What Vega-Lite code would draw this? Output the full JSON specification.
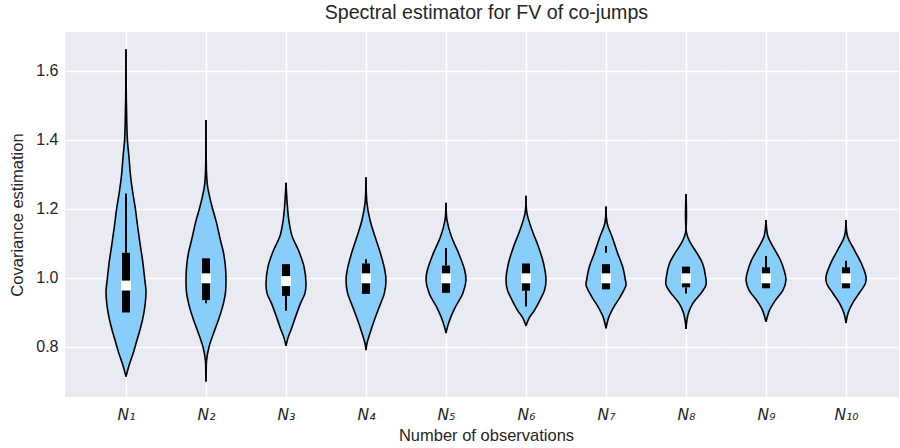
{
"$schema": "https://vega.github.io/schema/vega-lite/v6.json",
"padding": {"left": 9, "top": 3, "right": 0, "bottom": 0},
"spacing": 0,
"bounds": "flush",
"background": "white",
"title": {"text": "Spectral estimator for FV of co-jumps", "fontSize": 19.6, "font": "Liberation Sans", "fontWeight": "normal", "color": "#262626", "anchor": "middle", "offset": 8, "dx": 32},
"resolve": {"scale": {"x": "independent", "y": "independent"}},
"datasets": {
"violin": [
{"n":"N1","v":1.663,"w":0},{"n":"N1","v":1.55,"w":0.01},{"n":"N1","v":1.45,"w":0.04},{"n":"N1","v":1.4,"w":0.07},{"n":"N1","v":1.35,"w":0.15},{"n":"N1","v":1.3,"w":0.22},{"n":"N1","v":1.25,"w":0.33},{"n":"N1","v":1.2,"w":0.47},{"n":"N1","v":1.15,"w":0.58},{"n":"N1","v":1.1,"w":0.7},{"n":"N1","v":1.05,"w":0.83},{"n":"N1","v":1.0,"w":0.93},{"n":"N1","v":0.96,"w":1.0},{"n":"N1","v":0.92,"w":0.95},{"n":"N1","v":0.88,"w":0.83},{"n":"N1","v":0.85,"w":0.7},{"n":"N1","v":0.82,"w":0.55},{"n":"N1","v":0.78,"w":0.35},{"n":"N1","v":0.75,"w":0.17},{"n":"N1","v":0.714,"w":0},
{"n":"N2","v":1.458,"w":0},{"n":"N2","v":1.35,"w":0.01},{"n":"N2","v":1.3,"w":0.03},{"n":"N2","v":1.265,"w":0.08},{"n":"N2","v":1.236,"w":0.18},{"n":"N2","v":1.207,"w":0.3},{"n":"N2","v":1.159,"w":0.53},{"n":"N2","v":1.11,"w":0.72},{"n":"N2","v":1.072,"w":0.88},{"n":"N2","v":1.033,"w":0.97},{"n":"N2","v":0.995,"w":1.0},{"n":"N2","v":0.956,"w":0.97},{"n":"N2","v":0.917,"w":0.83},{"n":"N2","v":0.878,"w":0.62},{"n":"N2","v":0.84,"w":0.38},{"n":"N2","v":0.8,"w":0.15},{"n":"N2","v":0.762,"w":0.03},{"n":"N2","v":0.73,"w":0.01},{"n":"N2","v":0.7,"w":0},
{"n":"N3","v":1.276,"w":0},{"n":"N3","v":1.216,"w":0.06},{"n":"N3","v":1.168,"w":0.14},{"n":"N3","v":1.12,"w":0.31},{"n":"N3","v":1.096,"w":0.5},{"n":"N3","v":1.072,"w":0.68},{"n":"N3","v":1.033,"w":0.9},{"n":"N3","v":0.985,"w":1.0},{"n":"N3","v":0.956,"w":0.95},{"n":"N3","v":0.927,"w":0.73},{"n":"N3","v":0.888,"w":0.48},{"n":"N3","v":0.849,"w":0.25},{"n":"N3","v":0.83,"w":0.12},{"n":"N3","v":0.803,"w":0},
{"n":"N4","v":1.292,"w":0},{"n":"N4","v":1.216,"w":0.05},{"n":"N4","v":1.168,"w":0.2},{"n":"N4","v":1.12,"w":0.45},{"n":"N4","v":1.072,"w":0.72},{"n":"N4","v":1.023,"w":0.94},{"n":"N4","v":0.994,"w":1.0},{"n":"N4","v":0.956,"w":0.92},{"n":"N4","v":0.917,"w":0.67},{"n":"N4","v":0.878,"w":0.42},{"n":"N4","v":0.84,"w":0.2},{"n":"N4","v":0.81,"w":0.05},{"n":"N4","v":0.791,"w":0},
{"n":"N5","v":1.218,"w":0},{"n":"N5","v":1.168,"w":0.05},{"n":"N5","v":1.12,"w":0.27},{"n":"N5","v":1.072,"w":0.63},{"n":"N5","v":1.023,"w":0.93},{"n":"N5","v":0.994,"w":1.0},{"n":"N5","v":0.955,"w":0.84},{"n":"N5","v":0.917,"w":0.48},{"n":"N5","v":0.888,"w":0.25},{"n":"N5","v":0.859,"w":0.08},{"n":"N5","v":0.84,"w":0},
{"n":"N6","v":1.238,"w":0},{"n":"N6","v":1.187,"w":0.05},{"n":"N6","v":1.139,"w":0.3},{"n":"N6","v":1.091,"w":0.62},{"n":"N6","v":1.042,"w":0.88},{"n":"N6","v":0.994,"w":1.0},{"n":"N6","v":0.965,"w":0.93},{"n":"N6","v":0.936,"w":0.7},{"n":"N6","v":0.907,"w":0.43},{"n":"N6","v":0.883,"w":0.15},{"n":"N6","v":0.861,"w":0},
{"n":"N7","v":1.207,"w":0},{"n":"N7","v":1.158,"w":0.06},{"n":"N7","v":1.12,"w":0.3},{"n":"N7","v":1.072,"w":0.58},{"n":"N7","v":1.033,"w":0.83},{"n":"N7","v":0.994,"w":0.97},{"n":"N7","v":0.98,"w":1.0},{"n":"N7","v":0.946,"w":0.72},{"n":"N7","v":0.917,"w":0.4},{"n":"N7","v":0.888,"w":0.15},{"n":"N7","v":0.854,"w":0},
{"n":"N8","v":1.243,"w":0},{"n":"N8","v":1.13,"w":0.03},{"n":"N8","v":1.1,"w":0.24},{"n":"N8","v":1.072,"w":0.55},{"n":"N8","v":1.042,"w":0.83},{"n":"N8","v":1.004,"w":0.98},{"n":"N8","v":0.98,"w":1.0},{"n":"N8","v":0.955,"w":0.74},{"n":"N8","v":0.927,"w":0.35},{"n":"N8","v":0.898,"w":0.12},{"n":"N8","v":0.875,"w":0.04},{"n":"N8","v":0.852,"w":0},
{"n":"N9","v":1.168,"w":0},{"n":"N9","v":1.12,"w":0.1},{"n":"N9","v":1.091,"w":0.35},{"n":"N9","v":1.052,"w":0.72},{"n":"N9","v":1.023,"w":0.9},{"n":"N9","v":0.994,"w":1.0},{"n":"N9","v":0.965,"w":0.85},{"n":"N9","v":0.936,"w":0.48},{"n":"N9","v":0.907,"w":0.18},{"n":"N9","v":0.873,"w":0},
{"n":"N10","v":1.168,"w":0},{"n":"N10","v":1.12,"w":0.08},{"n":"N10","v":1.081,"w":0.42},{"n":"N10","v":1.042,"w":0.77},{"n":"N10","v":1.004,"w":1.0},{"n":"N10","v":0.985,"w":0.97},{"n":"N10","v":0.955,"w":0.65},{"n":"N10","v":0.927,"w":0.33},{"n":"N10","v":0.898,"w":0.1},{"n":"N10","v":0.869,"w":0}
],
"box": [
{"n":"N1","q1":0.9,"q3":1.073,"med":0.978,"wlo":1.073,"whi":1.245},
{"n":"N2","q1":0.936,"q3":1.057,"med":0.999,"wlo":0.927,"whi":0.936},
{"n":"N3","q1":0.948,"q3":1.04,"med":0.991,"wlo":0.905,"whi":0.948},
{"n":"N4","q1":0.954,"q3":1.042,"med":0.999,"wlo":1.042,"whi":1.054},
{"n":"N5","q1":0.957,"q3":1.036,"med":0.999,"wlo":1.036,"whi":1.087},
{"n":"N6","q1":0.963,"q3":1.042,"med":0.999,"wlo":0.917,"whi":0.963},
{"n":"N7","q1":0.967,"q3":1.04,"med":0.999,"wlo":1.073,"whi":1.093},
{"n":"N8","q1":0.973,"q3":1.033,"med":0.999,"wlo":0.955,"whi":0.973},
{"n":"N9","q1":0.97,"q3":1.031,"med":0.999,"wlo":1.031,"whi":1.064},
{"n":"N10","q1":0.97,"q3":1.031,"med":0.999,"wlo":1.031,"whi":1.05}
]
},
"hconcat": [
{"width": 101, "height": 365, "resolve": {"scale": {"x": "independent"}}, "layer": [
 {"data": {"name": "violin"}, "transform": [{"filter": "datum.n == 'N1'"}], "mark": {"type": "area", "orient": "horizontal", "interpolate": "catmull-rom", "color": "#87CEFA"}, "encoding": {
   "y": {"field": "v", "type": "quantitative", "scale": {"domain": [0.655, 1.713], "nice": false, "zero": false}, "axis": {"values": [0.8, 1.0, 1.2, 1.4, 1.6], "format": ".1f", "title": "Covariance estimation", "grid": true, "labelPadding": 7, "titlePadding": 10}},
   "x": {"field": "w", "type": "quantitative", "scale": {"domain": [-3.05, 2], "nice": false, "zero": false}, "axis": {"values": [0], "grid": true, "labelExpr": "'N₁'", "title": null}},
   "x2": {"datum": 0}}},
 {"data": {"name": "violin"}, "transform": [{"filter": "datum.n == 'N1'"}], "mark": {"type": "area", "orient": "horizontal", "interpolate": "catmull-rom", "color": "#87CEFA"}, "encoding": {
   "y": {"field": "v", "type": "quantitative", "scale": {"domain": [0.655, 1.713], "nice": false, "zero": false}},
   "x": {"field": "w", "type": "quantitative", "scale": {"domain": [-2, 3.05], "reverse": true, "nice": false, "zero": false}, "axis": null},
   "x2": {"datum": 0}}},
 {"data": {"name": "violin"}, "transform": [{"filter": "datum.n == 'N1'"}], "mark": {"type": "line", "interpolate": "catmull-rom", "color": "black", "strokeWidth": 1.6}, "encoding": {
   "y": {"field": "v", "type": "quantitative", "scale": {"domain": [0.655, 1.713], "nice": false, "zero": false}},
   "x": {"field": "w", "type": "quantitative", "scale": {"domain": [-3.05, 2], "nice": false, "zero": false}, "axis": null},
   "order": {"field": "v", "type": "quantitative"}}},
 {"data": {"name": "violin"}, "transform": [{"filter": "datum.n == 'N1'"}], "mark": {"type": "line", "interpolate": "catmull-rom", "color": "black", "strokeWidth": 1.6}, "encoding": {
   "y": {"field": "v", "type": "quantitative", "scale": {"domain": [0.655, 1.713], "nice": false, "zero": false}},
   "x": {"field": "w", "type": "quantitative", "scale": {"domain": [-2, 3.05], "reverse": true, "nice": false, "zero": false}, "axis": null},
   "order": {"field": "v", "type": "quantitative"}}},
 {"data": {"name": "box"}, "transform": [{"filter": "datum.n == 'N1'"}], "mark": {"type": "rule", "color": "black", "strokeWidth": 2}, "encoding": {
   "x": {"datum": 0, "type": "quantitative", "scale": {"domain": [-3.05, 2], "nice": false, "zero": false}, "axis": null},
   "y": {"field": "wlo", "type": "quantitative", "scale": {"domain": [0.655, 1.713], "nice": false, "zero": false}},
   "y2": {"field": "whi"}}},
 {"data": {"name": "box"}, "transform": [{"filter": "datum.n == 'N1'"}], "mark": {"type": "rule", "color": "black", "strokeWidth": 8, "strokeCap": "butt"}, "encoding": {
   "x": {"datum": 0, "type": "quantitative", "scale": {"domain": [-3.05, 2], "nice": false, "zero": false}, "axis": null},
   "y": {"field": "q1", "type": "quantitative", "scale": {"domain": [0.655, 1.713], "nice": false, "zero": false}},
   "y2": {"field": "q3"}}},
 {"data": {"name": "box"}, "transform": [{"filter": "datum.n == 'N1'"}], "mark": {"type": "point", "shape": "square", "filled": true, "color": "white", "opacity": 1, "size": 100, "strokeWidth": 0}, "encoding": {
   "x": {"datum": 0, "type": "quantitative", "scale": {"domain": [-3.05, 2], "nice": false, "zero": false}, "axis": null},
   "y": {"field": "med", "type": "quantitative", "scale": {"domain": [0.655, 1.713], "nice": false, "zero": false}}}}
]},
{"width": 80, "height": 365, "resolve": {"scale": {"x": "independent"}}, "layer": [
 {"data": {"name": "violin"}, "transform": [{"filter": "datum.n == 'N2'"}], "mark": {"type": "area", "orient": "horizontal", "interpolate": "catmull-rom", "color": "#87CEFA"}, "encoding": {
   "y": {"field": "v", "type": "quantitative", "scale": {"domain": [0.655, 1.713], "nice": false, "zero": false}, "axis": {"values": [0.8, 1.0, 1.2, 1.4, 1.6], "grid": true, "labels": false, "title": null}},
   "x": {"field": "w", "type": "quantitative", "scale": {"domain": [-2, 2], "nice": false, "zero": false}, "axis": {"values": [0], "grid": true, "labelExpr": "'N₂'", "title": null}},
   "x2": {"datum": 0}}},
 {"data": {"name": "violin"}, "transform": [{"filter": "datum.n == 'N2'"}], "mark": {"type": "area", "orient": "horizontal", "interpolate": "catmull-rom", "color": "#87CEFA"}, "encoding": {
   "y": {"field": "v", "type": "quantitative", "scale": {"domain": [0.655, 1.713], "nice": false, "zero": false}},
   "x": {"field": "w", "type": "quantitative", "scale": {"domain": [-2, 2], "reverse": true, "nice": false, "zero": false}, "axis": null},
   "x2": {"datum": 0}}},
 {"data": {"name": "violin"}, "transform": [{"filter": "datum.n == 'N2'"}], "mark": {"type": "line", "interpolate": "catmull-rom", "color": "black", "strokeWidth": 1.6}, "encoding": {
   "y": {"field": "v", "type": "quantitative", "scale": {"domain": [0.655, 1.713], "nice": false, "zero": false}},
   "x": {"field": "w", "type": "quantitative", "scale": {"domain": [-2, 2], "nice": false, "zero": false}, "axis": null},
   "order": {"field": "v", "type": "quantitative"}}},
 {"data": {"name": "violin"}, "transform": [{"filter": "datum.n == 'N2'"}], "mark": {"type": "line", "interpolate": "catmull-rom", "color": "black", "strokeWidth": 1.6}, "encoding": {
   "y": {"field": "v", "type": "quantitative", "scale": {"domain": [0.655, 1.713], "nice": false, "zero": false}},
   "x": {"field": "w", "type": "quantitative", "scale": {"domain": [-2, 2], "reverse": true, "nice": false, "zero": false}, "axis": null},
   "order": {"field": "v", "type": "quantitative"}}},
 {"data": {"name": "box"}, "transform": [{"filter": "datum.n == 'N2'"}], "mark": {"type": "rule", "color": "black", "strokeWidth": 2}, "encoding": {
   "x": {"datum": 0, "type": "quantitative", "scale": {"domain": [-2, 2], "nice": false, "zero": false}, "axis": null},
   "y": {"field": "wlo", "type": "quantitative", "scale": {"domain": [0.655, 1.713], "nice": false, "zero": false}},
   "y2": {"field": "whi"}}},
 {"data": {"name": "box"}, "transform": [{"filter": "datum.n == 'N2'"}], "mark": {"type": "rule", "color": "black", "strokeWidth": 8, "strokeCap": "butt"}, "encoding": {
   "x": {"datum": 0, "type": "quantitative", "scale": {"domain": [-2, 2], "nice": false, "zero": false}, "axis": null},
   "y": {"field": "q1", "type": "quantitative", "scale": {"domain": [0.655, 1.713], "nice": false, "zero": false}},
   "y2": {"field": "q3"}}},
 {"data": {"name": "box"}, "transform": [{"filter": "datum.n == 'N2'"}], "mark": {"type": "point", "shape": "square", "filled": true, "color": "white", "opacity": 1, "size": 100, "strokeWidth": 0}, "encoding": {
   "x": {"datum": 0, "type": "quantitative", "scale": {"domain": [-2, 2], "nice": false, "zero": false}, "axis": null},
   "y": {"field": "med", "type": "quantitative", "scale": {"domain": [0.655, 1.713], "nice": false, "zero": false}}}}
]},
{"width": 80, "height": 365, "resolve": {"scale": {"x": "independent"}}, "layer": [
 {"data": {"name": "violin"}, "transform": [{"filter": "datum.n == 'N3'"}], "mark": {"type": "area", "orient": "horizontal", "interpolate": "catmull-rom", "color": "#87CEFA"}, "encoding": {
   "y": {"field": "v", "type": "quantitative", "scale": {"domain": [0.655, 1.713], "nice": false, "zero": false}, "axis": {"values": [0.8, 1.0, 1.2, 1.4, 1.6], "grid": true, "labels": false, "title": null}},
   "x": {"field": "w", "type": "quantitative", "scale": {"domain": [-2, 2], "nice": false, "zero": false}, "axis": {"values": [0], "grid": true, "labelExpr": "'N₃'", "title": null}},
   "x2": {"datum": 0}}},
 {"data": {"name": "violin"}, "transform": [{"filter": "datum.n == 'N3'"}], "mark": {"type": "area", "orient": "horizontal", "interpolate": "catmull-rom", "color": "#87CEFA"}, "encoding": {
   "y": {"field": "v", "type": "quantitative", "scale": {"domain": [0.655, 1.713], "nice": false, "zero": false}},
   "x": {"field": "w", "type": "quantitative", "scale": {"domain": [-2, 2], "reverse": true, "nice": false, "zero": false}, "axis": null},
   "x2": {"datum": 0}}},
 {"data": {"name": "violin"}, "transform": [{"filter": "datum.n == 'N3'"}], "mark": {"type": "line", "interpolate": "catmull-rom", "color": "black", "strokeWidth": 1.6}, "encoding": {
   "y": {"field": "v", "type": "quantitative", "scale": {"domain": [0.655, 1.713], "nice": false, "zero": false}},
   "x": {"field": "w", "type": "quantitative", "scale": {"domain": [-2, 2], "nice": false, "zero": false}, "axis": null},
   "order": {"field": "v", "type": "quantitative"}}},
 {"data": {"name": "violin"}, "transform": [{"filter": "datum.n == 'N3'"}], "mark": {"type": "line", "interpolate": "catmull-rom", "color": "black", "strokeWidth": 1.6}, "encoding": {
   "y": {"field": "v", "type": "quantitative", "scale": {"domain": [0.655, 1.713], "nice": false, "zero": false}},
   "x": {"field": "w", "type": "quantitative", "scale": {"domain": [-2, 2], "reverse": true, "nice": false, "zero": false}, "axis": null},
   "order": {"field": "v", "type": "quantitative"}}},
 {"data": {"name": "box"}, "transform": [{"filter": "datum.n == 'N3'"}], "mark": {"type": "rule", "color": "black", "strokeWidth": 2}, "encoding": {
   "x": {"datum": 0, "type": "quantitative", "scale": {"domain": [-2, 2], "nice": false, "zero": false}, "axis": null},
   "y": {"field": "wlo", "type": "quantitative", "scale": {"domain": [0.655, 1.713], "nice": false, "zero": false}},
   "y2": {"field": "whi"}}},
 {"data": {"name": "box"}, "transform": [{"filter": "datum.n == 'N3'"}], "mark": {"type": "rule", "color": "black", "strokeWidth": 8, "strokeCap": "butt"}, "encoding": {
   "x": {"datum": 0, "type": "quantitative", "scale": {"domain": [-2, 2], "nice": false, "zero": false}, "axis": null},
   "y": {"field": "q1", "type": "quantitative", "scale": {"domain": [0.655, 1.713], "nice": false, "zero": false}},
   "y2": {"field": "q3"}}},
 {"data": {"name": "box"}, "transform": [{"filter": "datum.n == 'N3'"}], "mark": {"type": "point", "shape": "square", "filled": true, "color": "white", "opacity": 1, "size": 100, "strokeWidth": 0}, "encoding": {
   "x": {"datum": 0, "type": "quantitative", "scale": {"domain": [-2, 2], "nice": false, "zero": false}, "axis": null},
   "y": {"field": "med", "type": "quantitative", "scale": {"domain": [0.655, 1.713], "nice": false, "zero": false}}}}
]},
{"width": 80, "height": 365, "resolve": {"scale": {"x": "independent"}}, "layer": [
 {"data": {"name": "violin"}, "transform": [{"filter": "datum.n == 'N4'"}], "mark": {"type": "area", "orient": "horizontal", "interpolate": "catmull-rom", "color": "#87CEFA"}, "encoding": {
   "y": {"field": "v", "type": "quantitative", "scale": {"domain": [0.655, 1.713], "nice": false, "zero": false}, "axis": {"values": [0.8, 1.0, 1.2, 1.4, 1.6], "grid": true, "labels": false, "title": null}},
   "x": {"field": "w", "type": "quantitative", "scale": {"domain": [-2, 2], "nice": false, "zero": false}, "axis": {"values": [0], "grid": true, "labelExpr": "'N₄'", "title": null}},
   "x2": {"datum": 0}}},
 {"data": {"name": "violin"}, "transform": [{"filter": "datum.n == 'N4'"}], "mark": {"type": "area", "orient": "horizontal", "interpolate": "catmull-rom", "color": "#87CEFA"}, "encoding": {
   "y": {"field": "v", "type": "quantitative", "scale": {"domain": [0.655, 1.713], "nice": false, "zero": false}},
   "x": {"field": "w", "type": "quantitative", "scale": {"domain": [-2, 2], "reverse": true, "nice": false, "zero": false}, "axis": null},
   "x2": {"datum": 0}}},
 {"data": {"name": "violin"}, "transform": [{"filter": "datum.n == 'N4'"}], "mark": {"type": "line", "interpolate": "catmull-rom", "color": "black", "strokeWidth": 1.6}, "encoding": {
   "y": {"field": "v", "type": "quantitative", "scale": {"domain": [0.655, 1.713], "nice": false, "zero": false}},
   "x": {"field": "w", "type": "quantitative", "scale": {"domain": [-2, 2], "nice": false, "zero": false}, "axis": null},
   "order": {"field": "v", "type": "quantitative"}}},
 {"data": {"name": "violin"}, "transform": [{"filter": "datum.n == 'N4'"}], "mark": {"type": "line", "interpolate": "catmull-rom", "color": "black", "strokeWidth": 1.6}, "encoding": {
   "y": {"field": "v", "type": "quantitative", "scale": {"domain": [0.655, 1.713], "nice": false, "zero": false}},
   "x": {"field": "w", "type": "quantitative", "scale": {"domain": [-2, 2], "reverse": true, "nice": false, "zero": false}, "axis": null},
   "order": {"field": "v", "type": "quantitative"}}},
 {"data": {"name": "box"}, "transform": [{"filter": "datum.n == 'N4'"}], "mark": {"type": "rule", "color": "black", "strokeWidth": 2}, "encoding": {
   "x": {"datum": 0, "type": "quantitative", "scale": {"domain": [-2, 2], "nice": false, "zero": false}, "axis": null},
   "y": {"field": "wlo", "type": "quantitative", "scale": {"domain": [0.655, 1.713], "nice": false, "zero": false}},
   "y2": {"field": "whi"}}},
 {"data": {"name": "box"}, "transform": [{"filter": "datum.n == 'N4'"}], "mark": {"type": "rule", "color": "black", "strokeWidth": 8, "strokeCap": "butt"}, "encoding": {
   "x": {"datum": 0, "type": "quantitative", "scale": {"domain": [-2, 2], "nice": false, "zero": false}, "axis": null},
   "y": {"field": "q1", "type": "quantitative", "scale": {"domain": [0.655, 1.713], "nice": false, "zero": false}},
   "y2": {"field": "q3"}}},
 {"data": {"name": "box"}, "transform": [{"filter": "datum.n == 'N4'"}], "mark": {"type": "point", "shape": "square", "filled": true, "color": "white", "opacity": 1, "size": 100, "strokeWidth": 0}, "encoding": {
   "x": {"datum": 0, "type": "quantitative", "scale": {"domain": [-2, 2], "nice": false, "zero": false}, "axis": null},
   "y": {"field": "med", "type": "quantitative", "scale": {"domain": [0.655, 1.713], "nice": false, "zero": false}}}}
]},
{"width": 80, "height": 365, "resolve": {"scale": {"x": "independent"}}, "layer": [
 {"data": {"name": "violin"}, "transform": [{"filter": "datum.n == 'N5'"}], "mark": {"type": "area", "orient": "horizontal", "interpolate": "catmull-rom", "color": "#87CEFA"}, "encoding": {
   "y": {"field": "v", "type": "quantitative", "scale": {"domain": [0.655, 1.713], "nice": false, "zero": false}, "axis": {"values": [0.8, 1.0, 1.2, 1.4, 1.6], "grid": true, "labels": false, "title": null}},
   "x": {"field": "w", "type": "quantitative", "scale": {"domain": [-2, 2], "nice": false, "zero": false}, "axis": {"values": [0], "grid": true, "labelExpr": "'N₅'", "title": "Number of observations", "titleX": 80, "titleAlign": "center", "titlePadding": 5}},
   "x2": {"datum": 0}}},
 {"data": {"name": "violin"}, "transform": [{"filter": "datum.n == 'N5'"}], "mark": {"type": "area", "orient": "horizontal", "interpolate": "catmull-rom", "color": "#87CEFA"}, "encoding": {
   "y": {"field": "v", "type": "quantitative", "scale": {"domain": [0.655, 1.713], "nice": false, "zero": false}},
   "x": {"field": "w", "type": "quantitative", "scale": {"domain": [-2, 2], "reverse": true, "nice": false, "zero": false}, "axis": null},
   "x2": {"datum": 0}}},
 {"data": {"name": "violin"}, "transform": [{"filter": "datum.n == 'N5'"}], "mark": {"type": "line", "interpolate": "catmull-rom", "color": "black", "strokeWidth": 1.6}, "encoding": {
   "y": {"field": "v", "type": "quantitative", "scale": {"domain": [0.655, 1.713], "nice": false, "zero": false}},
   "x": {"field": "w", "type": "quantitative", "scale": {"domain": [-2, 2], "nice": false, "zero": false}, "axis": null},
   "order": {"field": "v", "type": "quantitative"}}},
 {"data": {"name": "violin"}, "transform": [{"filter": "datum.n == 'N5'"}], "mark": {"type": "line", "interpolate": "catmull-rom", "color": "black", "strokeWidth": 1.6}, "encoding": {
   "y": {"field": "v", "type": "quantitative", "scale": {"domain": [0.655, 1.713], "nice": false, "zero": false}},
   "x": {"field": "w", "type": "quantitative", "scale": {"domain": [-2, 2], "reverse": true, "nice": false, "zero": false}, "axis": null},
   "order": {"field": "v", "type": "quantitative"}}},
 {"data": {"name": "box"}, "transform": [{"filter": "datum.n == 'N5'"}], "mark": {"type": "rule", "color": "black", "strokeWidth": 2}, "encoding": {
   "x": {"datum": 0, "type": "quantitative", "scale": {"domain": [-2, 2], "nice": false, "zero": false}, "axis": null},
   "y": {"field": "wlo", "type": "quantitative", "scale": {"domain": [0.655, 1.713], "nice": false, "zero": false}},
   "y2": {"field": "whi"}}},
 {"data": {"name": "box"}, "transform": [{"filter": "datum.n == 'N5'"}], "mark": {"type": "rule", "color": "black", "strokeWidth": 8, "strokeCap": "butt"}, "encoding": {
   "x": {"datum": 0, "type": "quantitative", "scale": {"domain": [-2, 2], "nice": false, "zero": false}, "axis": null},
   "y": {"field": "q1", "type": "quantitative", "scale": {"domain": [0.655, 1.713], "nice": false, "zero": false}},
   "y2": {"field": "q3"}}},
 {"data": {"name": "box"}, "transform": [{"filter": "datum.n == 'N5'"}], "mark": {"type": "point", "shape": "square", "filled": true, "color": "white", "opacity": 1, "size": 100, "strokeWidth": 0}, "encoding": {
   "x": {"datum": 0, "type": "quantitative", "scale": {"domain": [-2, 2], "nice": false, "zero": false}, "axis": null},
   "y": {"field": "med", "type": "quantitative", "scale": {"domain": [0.655, 1.713], "nice": false, "zero": false}}}}
]},
{"width": 80, "height": 365, "resolve": {"scale": {"x": "independent"}}, "layer": [
 {"data": {"name": "violin"}, "transform": [{"filter": "datum.n == 'N6'"}], "mark": {"type": "area", "orient": "horizontal", "interpolate": "catmull-rom", "color": "#87CEFA"}, "encoding": {
   "y": {"field": "v", "type": "quantitative", "scale": {"domain": [0.655, 1.713], "nice": false, "zero": false}, "axis": {"values": [0.8, 1.0, 1.2, 1.4, 1.6], "grid": true, "labels": false, "title": null}},
   "x": {"field": "w", "type": "quantitative", "scale": {"domain": [-2, 2], "nice": false, "zero": false}, "axis": {"values": [0], "grid": true, "labelExpr": "'N₆'", "title": null}},
   "x2": {"datum": 0}}},
 {"data": {"name": "violin"}, "transform": [{"filter": "datum.n == 'N6'"}], "mark": {"type": "area", "orient": "horizontal", "interpolate": "catmull-rom", "color": "#87CEFA"}, "encoding": {
   "y": {"field": "v", "type": "quantitative", "scale": {"domain": [0.655, 1.713], "nice": false, "zero": false}},
   "x": {"field": "w", "type": "quantitative", "scale": {"domain": [-2, 2], "reverse": true, "nice": false, "zero": false}, "axis": null},
   "x2": {"datum": 0}}},
 {"data": {"name": "violin"}, "transform": [{"filter": "datum.n == 'N6'"}], "mark": {"type": "line", "interpolate": "catmull-rom", "color": "black", "strokeWidth": 1.6}, "encoding": {
   "y": {"field": "v", "type": "quantitative", "scale": {"domain": [0.655, 1.713], "nice": false, "zero": false}},
   "x": {"field": "w", "type": "quantitative", "scale": {"domain": [-2, 2], "nice": false, "zero": false}, "axis": null},
   "order": {"field": "v", "type": "quantitative"}}},
 {"data": {"name": "violin"}, "transform": [{"filter": "datum.n == 'N6'"}], "mark": {"type": "line", "interpolate": "catmull-rom", "color": "black", "strokeWidth": 1.6}, "encoding": {
   "y": {"field": "v", "type": "quantitative", "scale": {"domain": [0.655, 1.713], "nice": false, "zero": false}},
   "x": {"field": "w", "type": "quantitative", "scale": {"domain": [-2, 2], "reverse": true, "nice": false, "zero": false}, "axis": null},
   "order": {"field": "v", "type": "quantitative"}}},
 {"data": {"name": "box"}, "transform": [{"filter": "datum.n == 'N6'"}], "mark": {"type": "rule", "color": "black", "strokeWidth": 2}, "encoding": {
   "x": {"datum": 0, "type": "quantitative", "scale": {"domain": [-2, 2], "nice": false, "zero": false}, "axis": null},
   "y": {"field": "wlo", "type": "quantitative", "scale": {"domain": [0.655, 1.713], "nice": false, "zero": false}},
   "y2": {"field": "whi"}}},
 {"data": {"name": "box"}, "transform": [{"filter": "datum.n == 'N6'"}], "mark": {"type": "rule", "color": "black", "strokeWidth": 8, "strokeCap": "butt"}, "encoding": {
   "x": {"datum": 0, "type": "quantitative", "scale": {"domain": [-2, 2], "nice": false, "zero": false}, "axis": null},
   "y": {"field": "q1", "type": "quantitative", "scale": {"domain": [0.655, 1.713], "nice": false, "zero": false}},
   "y2": {"field": "q3"}}},
 {"data": {"name": "box"}, "transform": [{"filter": "datum.n == 'N6'"}], "mark": {"type": "point", "shape": "square", "filled": true, "color": "white", "opacity": 1, "size": 100, "strokeWidth": 0}, "encoding": {
   "x": {"datum": 0, "type": "quantitative", "scale": {"domain": [-2, 2], "nice": false, "zero": false}, "axis": null},
   "y": {"field": "med", "type": "quantitative", "scale": {"domain": [0.655, 1.713], "nice": false, "zero": false}}}}
]},
{"width": 80, "height": 365, "resolve": {"scale": {"x": "independent"}}, "layer": [
 {"data": {"name": "violin"}, "transform": [{"filter": "datum.n == 'N7'"}], "mark": {"type": "area", "orient": "horizontal", "interpolate": "catmull-rom", "color": "#87CEFA"}, "encoding": {
   "y": {"field": "v", "type": "quantitative", "scale": {"domain": [0.655, 1.713], "nice": false, "zero": false}, "axis": {"values": [0.8, 1.0, 1.2, 1.4, 1.6], "grid": true, "labels": false, "title": null}},
   "x": {"field": "w", "type": "quantitative", "scale": {"domain": [-2, 2], "nice": false, "zero": false}, "axis": {"values": [0], "grid": true, "labelExpr": "'N₇'", "title": null}},
   "x2": {"datum": 0}}},
 {"data": {"name": "violin"}, "transform": [{"filter": "datum.n == 'N7'"}], "mark": {"type": "area", "orient": "horizontal", "interpolate": "catmull-rom", "color": "#87CEFA"}, "encoding": {
   "y": {"field": "v", "type": "quantitative", "scale": {"domain": [0.655, 1.713], "nice": false, "zero": false}},
   "x": {"field": "w", "type": "quantitative", "scale": {"domain": [-2, 2], "reverse": true, "nice": false, "zero": false}, "axis": null},
   "x2": {"datum": 0}}},
 {"data": {"name": "violin"}, "transform": [{"filter": "datum.n == 'N7'"}], "mark": {"type": "line", "interpolate": "catmull-rom", "color": "black", "strokeWidth": 1.6}, "encoding": {
   "y": {"field": "v", "type": "quantitative", "scale": {"domain": [0.655, 1.713], "nice": false, "zero": false}},
   "x": {"field": "w", "type": "quantitative", "scale": {"domain": [-2, 2], "nice": false, "zero": false}, "axis": null},
   "order": {"field": "v", "type": "quantitative"}}},
 {"data": {"name": "violin"}, "transform": [{"filter": "datum.n == 'N7'"}], "mark": {"type": "line", "interpolate": "catmull-rom", "color": "black", "strokeWidth": 1.6}, "encoding": {
   "y": {"field": "v", "type": "quantitative", "scale": {"domain": [0.655, 1.713], "nice": false, "zero": false}},
   "x": {"field": "w", "type": "quantitative", "scale": {"domain": [-2, 2], "reverse": true, "nice": false, "zero": false}, "axis": null},
   "order": {"field": "v", "type": "quantitative"}}},
 {"data": {"name": "box"}, "transform": [{"filter": "datum.n == 'N7'"}], "mark": {"type": "rule", "color": "black", "strokeWidth": 2}, "encoding": {
   "x": {"datum": 0, "type": "quantitative", "scale": {"domain": [-2, 2], "nice": false, "zero": false}, "axis": null},
   "y": {"field": "wlo", "type": "quantitative", "scale": {"domain": [0.655, 1.713], "nice": false, "zero": false}},
   "y2": {"field": "whi"}}},
 {"data": {"name": "box"}, "transform": [{"filter": "datum.n == 'N7'"}], "mark": {"type": "rule", "color": "black", "strokeWidth": 8, "strokeCap": "butt"}, "encoding": {
   "x": {"datum": 0, "type": "quantitative", "scale": {"domain": [-2, 2], "nice": false, "zero": false}, "axis": null},
   "y": {"field": "q1", "type": "quantitative", "scale": {"domain": [0.655, 1.713], "nice": false, "zero": false}},
   "y2": {"field": "q3"}}},
 {"data": {"name": "box"}, "transform": [{"filter": "datum.n == 'N7'"}], "mark": {"type": "point", "shape": "square", "filled": true, "color": "white", "opacity": 1, "size": 100, "strokeWidth": 0}, "encoding": {
   "x": {"datum": 0, "type": "quantitative", "scale": {"domain": [-2, 2], "nice": false, "zero": false}, "axis": null},
   "y": {"field": "med", "type": "quantitative", "scale": {"domain": [0.655, 1.713], "nice": false, "zero": false}}}}
]},
{"width": 80, "height": 365, "resolve": {"scale": {"x": "independent"}}, "layer": [
 {"data": {"name": "violin"}, "transform": [{"filter": "datum.n == 'N8'"}], "mark": {"type": "area", "orient": "horizontal", "interpolate": "catmull-rom", "color": "#87CEFA"}, "encoding": {
   "y": {"field": "v", "type": "quantitative", "scale": {"domain": [0.655, 1.713], "nice": false, "zero": false}, "axis": {"values": [0.8, 1.0, 1.2, 1.4, 1.6], "grid": true, "labels": false, "title": null}},
   "x": {"field": "w", "type": "quantitative", "scale": {"domain": [-2, 2], "nice": false, "zero": false}, "axis": {"values": [0], "grid": true, "labelExpr": "'N₈'", "title": null}},
   "x2": {"datum": 0}}},
 {"data": {"name": "violin"}, "transform": [{"filter": "datum.n == 'N8'"}], "mark": {"type": "area", "orient": "horizontal", "interpolate": "catmull-rom", "color": "#87CEFA"}, "encoding": {
   "y": {"field": "v", "type": "quantitative", "scale": {"domain": [0.655, 1.713], "nice": false, "zero": false}},
   "x": {"field": "w", "type": "quantitative", "scale": {"domain": [-2, 2], "reverse": true, "nice": false, "zero": false}, "axis": null},
   "x2": {"datum": 0}}},
 {"data": {"name": "violin"}, "transform": [{"filter": "datum.n == 'N8'"}], "mark": {"type": "line", "interpolate": "catmull-rom", "color": "black", "strokeWidth": 1.6}, "encoding": {
   "y": {"field": "v", "type": "quantitative", "scale": {"domain": [0.655, 1.713], "nice": false, "zero": false}},
   "x": {"field": "w", "type": "quantitative", "scale": {"domain": [-2, 2], "nice": false, "zero": false}, "axis": null},
   "order": {"field": "v", "type": "quantitative"}}},
 {"data": {"name": "violin"}, "transform": [{"filter": "datum.n == 'N8'"}], "mark": {"type": "line", "interpolate": "catmull-rom", "color": "black", "strokeWidth": 1.6}, "encoding": {
   "y": {"field": "v", "type": "quantitative", "scale": {"domain": [0.655, 1.713], "nice": false, "zero": false}},
   "x": {"field": "w", "type": "quantitative", "scale": {"domain": [-2, 2], "reverse": true, "nice": false, "zero": false}, "axis": null},
   "order": {"field": "v", "type": "quantitative"}}},
 {"data": {"name": "box"}, "transform": [{"filter": "datum.n == 'N8'"}], "mark": {"type": "rule", "color": "black", "strokeWidth": 2}, "encoding": {
   "x": {"datum": 0, "type": "quantitative", "scale": {"domain": [-2, 2], "nice": false, "zero": false}, "axis": null},
   "y": {"field": "wlo", "type": "quantitative", "scale": {"domain": [0.655, 1.713], "nice": false, "zero": false}},
   "y2": {"field": "whi"}}},
 {"data": {"name": "box"}, "transform": [{"filter": "datum.n == 'N8'"}], "mark": {"type": "rule", "color": "black", "strokeWidth": 8, "strokeCap": "butt"}, "encoding": {
   "x": {"datum": 0, "type": "quantitative", "scale": {"domain": [-2, 2], "nice": false, "zero": false}, "axis": null},
   "y": {"field": "q1", "type": "quantitative", "scale": {"domain": [0.655, 1.713], "nice": false, "zero": false}},
   "y2": {"field": "q3"}}},
 {"data": {"name": "box"}, "transform": [{"filter": "datum.n == 'N8'"}], "mark": {"type": "point", "shape": "square", "filled": true, "color": "white", "opacity": 1, "size": 100, "strokeWidth": 0}, "encoding": {
   "x": {"datum": 0, "type": "quantitative", "scale": {"domain": [-2, 2], "nice": false, "zero": false}, "axis": null},
   "y": {"field": "med", "type": "quantitative", "scale": {"domain": [0.655, 1.713], "nice": false, "zero": false}}}}
]},
{"width": 80, "height": 365, "resolve": {"scale": {"x": "independent"}}, "layer": [
 {"data": {"name": "violin"}, "transform": [{"filter": "datum.n == 'N9'"}], "mark": {"type": "area", "orient": "horizontal", "interpolate": "catmull-rom", "color": "#87CEFA"}, "encoding": {
   "y": {"field": "v", "type": "quantitative", "scale": {"domain": [0.655, 1.713], "nice": false, "zero": false}, "axis": {"values": [0.8, 1.0, 1.2, 1.4, 1.6], "grid": true, "labels": false, "title": null}},
   "x": {"field": "w", "type": "quantitative", "scale": {"domain": [-2, 2], "nice": false, "zero": false}, "axis": {"values": [0], "grid": true, "labelExpr": "'N₉'", "title": null}},
   "x2": {"datum": 0}}},
 {"data": {"name": "violin"}, "transform": [{"filter": "datum.n == 'N9'"}], "mark": {"type": "area", "orient": "horizontal", "interpolate": "catmull-rom", "color": "#87CEFA"}, "encoding": {
   "y": {"field": "v", "type": "quantitative", "scale": {"domain": [0.655, 1.713], "nice": false, "zero": false}},
   "x": {"field": "w", "type": "quantitative", "scale": {"domain": [-2, 2], "reverse": true, "nice": false, "zero": false}, "axis": null},
   "x2": {"datum": 0}}},
 {"data": {"name": "violin"}, "transform": [{"filter": "datum.n == 'N9'"}], "mark": {"type": "line", "interpolate": "catmull-rom", "color": "black", "strokeWidth": 1.6}, "encoding": {
   "y": {"field": "v", "type": "quantitative", "scale": {"domain": [0.655, 1.713], "nice": false, "zero": false}},
   "x": {"field": "w", "type": "quantitative", "scale": {"domain": [-2, 2], "nice": false, "zero": false}, "axis": null},
   "order": {"field": "v", "type": "quantitative"}}},
 {"data": {"name": "violin"}, "transform": [{"filter": "datum.n == 'N9'"}], "mark": {"type": "line", "interpolate": "catmull-rom", "color": "black", "strokeWidth": 1.6}, "encoding": {
   "y": {"field": "v", "type": "quantitative", "scale": {"domain": [0.655, 1.713], "nice": false, "zero": false}},
   "x": {"field": "w", "type": "quantitative", "scale": {"domain": [-2, 2], "reverse": true, "nice": false, "zero": false}, "axis": null},
   "order": {"field": "v", "type": "quantitative"}}},
 {"data": {"name": "box"}, "transform": [{"filter": "datum.n == 'N9'"}], "mark": {"type": "rule", "color": "black", "strokeWidth": 2}, "encoding": {
   "x": {"datum": 0, "type": "quantitative", "scale": {"domain": [-2, 2], "nice": false, "zero": false}, "axis": null},
   "y": {"field": "wlo", "type": "quantitative", "scale": {"domain": [0.655, 1.713], "nice": false, "zero": false}},
   "y2": {"field": "whi"}}},
 {"data": {"name": "box"}, "transform": [{"filter": "datum.n == 'N9'"}], "mark": {"type": "rule", "color": "black", "strokeWidth": 8, "strokeCap": "butt"}, "encoding": {
   "x": {"datum": 0, "type": "quantitative", "scale": {"domain": [-2, 2], "nice": false, "zero": false}, "axis": null},
   "y": {"field": "q1", "type": "quantitative", "scale": {"domain": [0.655, 1.713], "nice": false, "zero": false}},
   "y2": {"field": "q3"}}},
 {"data": {"name": "box"}, "transform": [{"filter": "datum.n == 'N9'"}], "mark": {"type": "point", "shape": "square", "filled": true, "color": "white", "opacity": 1, "size": 100, "strokeWidth": 0}, "encoding": {
   "x": {"datum": 0, "type": "quantitative", "scale": {"domain": [-2, 2], "nice": false, "zero": false}, "axis": null},
   "y": {"field": "med", "type": "quantitative", "scale": {"domain": [0.655, 1.713], "nice": false, "zero": false}}}}
]},
{"width": 93, "height": 365, "resolve": {"scale": {"x": "independent"}}, "layer": [
 {"data": {"name": "violin"}, "transform": [{"filter": "datum.n == 'N10'"}], "mark": {"type": "area", "orient": "horizontal", "interpolate": "catmull-rom", "color": "#87CEFA"}, "encoding": {
   "y": {"field": "v", "type": "quantitative", "scale": {"domain": [0.655, 1.713], "nice": false, "zero": false}, "axis": {"values": [0.8, 1.0, 1.2, 1.4, 1.6], "grid": true, "labels": false, "title": null}},
   "x": {"field": "w", "type": "quantitative", "scale": {"domain": [-2, 2.65], "nice": false, "zero": false}, "axis": {"values": [0], "grid": true, "labelExpr": "'N₁₀'", "title": null}},
   "x2": {"datum": 0}}},
 {"data": {"name": "violin"}, "transform": [{"filter": "datum.n == 'N10'"}], "mark": {"type": "area", "orient": "horizontal", "interpolate": "catmull-rom", "color": "#87CEFA"}, "encoding": {
   "y": {"field": "v", "type": "quantitative", "scale": {"domain": [0.655, 1.713], "nice": false, "zero": false}},
   "x": {"field": "w", "type": "quantitative", "scale": {"domain": [-2.65, 2], "reverse": true, "nice": false, "zero": false}, "axis": null},
   "x2": {"datum": 0}}},
 {"data": {"name": "violin"}, "transform": [{"filter": "datum.n == 'N10'"}], "mark": {"type": "line", "interpolate": "catmull-rom", "color": "black", "strokeWidth": 1.6}, "encoding": {
   "y": {"field": "v", "type": "quantitative", "scale": {"domain": [0.655, 1.713], "nice": false, "zero": false}},
   "x": {"field": "w", "type": "quantitative", "scale": {"domain": [-2, 2.65], "nice": false, "zero": false}, "axis": null},
   "order": {"field": "v", "type": "quantitative"}}},
 {"data": {"name": "violin"}, "transform": [{"filter": "datum.n == 'N10'"}], "mark": {"type": "line", "interpolate": "catmull-rom", "color": "black", "strokeWidth": 1.6}, "encoding": {
   "y": {"field": "v", "type": "quantitative", "scale": {"domain": [0.655, 1.713], "nice": false, "zero": false}},
   "x": {"field": "w", "type": "quantitative", "scale": {"domain": [-2.65, 2], "reverse": true, "nice": false, "zero": false}, "axis": null},
   "order": {"field": "v", "type": "quantitative"}}},
 {"data": {"name": "box"}, "transform": [{"filter": "datum.n == 'N10'"}], "mark": {"type": "rule", "color": "black", "strokeWidth": 2}, "encoding": {
   "x": {"datum": 0, "type": "quantitative", "scale": {"domain": [-2, 2.65], "nice": false, "zero": false}, "axis": null},
   "y": {"field": "wlo", "type": "quantitative", "scale": {"domain": [0.655, 1.713], "nice": false, "zero": false}},
   "y2": {"field": "whi"}}},
 {"data": {"name": "box"}, "transform": [{"filter": "datum.n == 'N10'"}], "mark": {"type": "rule", "color": "black", "strokeWidth": 8, "strokeCap": "butt"}, "encoding": {
   "x": {"datum": 0, "type": "quantitative", "scale": {"domain": [-2, 2.65], "nice": false, "zero": false}, "axis": null},
   "y": {"field": "q1", "type": "quantitative", "scale": {"domain": [0.655, 1.713], "nice": false, "zero": false}},
   "y2": {"field": "q3"}}},
 {"data": {"name": "box"}, "transform": [{"filter": "datum.n == 'N10'"}], "mark": {"type": "point", "shape": "square", "filled": true, "color": "white", "opacity": 1, "size": 100, "strokeWidth": 0}, "encoding": {
   "x": {"datum": 0, "type": "quantitative", "scale": {"domain": [-2, 2.65], "nice": false, "zero": false}, "axis": null},
   "y": {"field": "med", "type": "quantitative", "scale": {"domain": [0.655, 1.713], "nice": false, "zero": false}}}}
]}
],
"config": {
 "view": {"fill": "#EAEAF2", "stroke": null},
 "concat": {"spacing": 0},
 "axis": {"domain": false, "ticks": false, "gridColor": "#FFFFFF", "gridWidth": 1.5, "gridOpacity": 1, "labelFont": "Liberation Sans", "titleFont": "Liberation Sans", "labelColor": "#262626", "titleColor": "#262626", "labelFontSize": 16, "titleFontSize": 16.5, "titleFontWeight": "normal"},
 "axisX": {"labelFont": "DejaVu Sans", "labelFontStyle": "italic", "labelFontSize": 15.5, "labelPadding": 10}
}
}
